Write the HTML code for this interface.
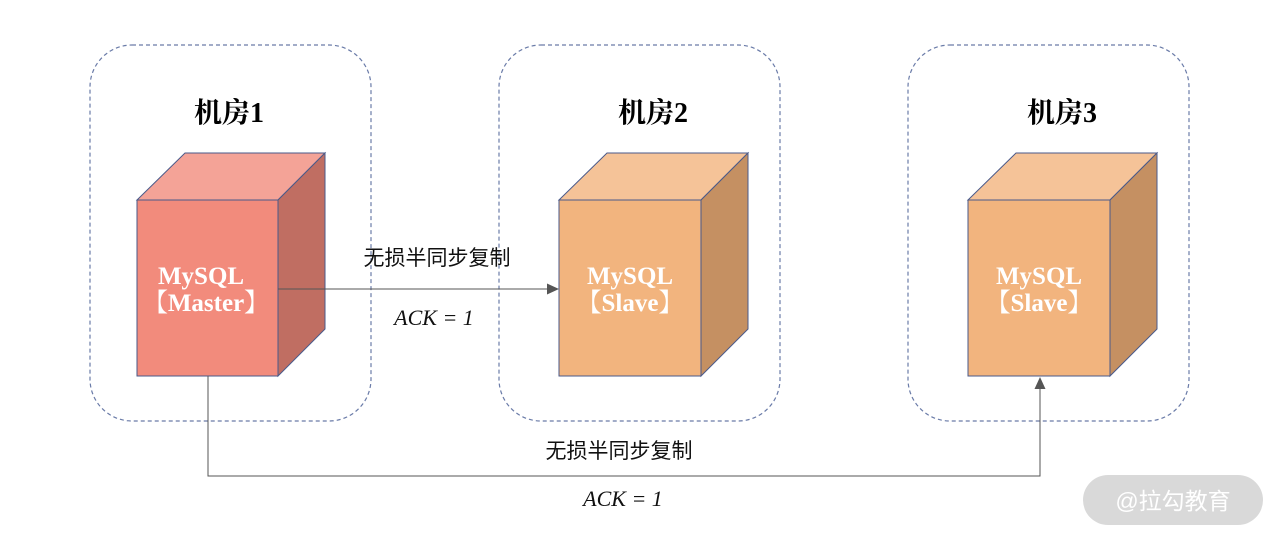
<!DOCTYPE html>
<html><head><meta charset="utf-8"><style>
html,body{margin:0;padding:0;background:#fff;width:1280px;height:543px;overflow:hidden}
</style></head><body>
<svg width="1280" height="543" viewBox="0 0 1280 543" xmlns="http://www.w3.org/2000/svg">
<g fill="none" stroke="#6a7ba8" stroke-width="1.2" stroke-dasharray="4,3">
<rect x="90" y="45" width="281" height="376" rx="42"/>
<rect x="499" y="45" width="281" height="376" rx="42"/>
<rect x="908" y="45" width="281" height="376" rx="42"/>
</g>
<g font-family="'Liberation Serif','Noto Serif CJK SC',serif" font-weight="bold" font-size="28" fill="#000" text-anchor="middle">
<text x="229" y="122">机房1</text>
<text x="653" y="122">机房2</text>
<text x="1062" y="122">机房3</text>
</g>
<g stroke="#4a5a8a" stroke-width="1">
<polygon points="137,200 185,153 325,153 278,200" fill="#f4a397"/>
<polygon points="278,200 325,153 325,329 278,376" fill="#c06e62"/>
<rect x="137" y="200" width="141" height="176" fill="#f28b7c"/>
<polygon points="559,200 607,153 748,153 701,200" fill="#f5c398"/>
<polygon points="701,200 748,153 748,329 701,376" fill="#c59062"/>
<rect x="559" y="200" width="142" height="176" fill="#f2b47e"/>
<polygon points="968,200 1016,153 1157,153 1110,200" fill="#f5c398"/>
<polygon points="1110,200 1157,153 1157,329 1110,376" fill="#c59062"/>
<rect x="968" y="200" width="142" height="176" fill="#f2b47e"/>
</g>
<g font-family="'Liberation Serif','Noto Serif CJK SC',serif" font-weight="bold" font-size="25" fill="#fff" text-anchor="middle">
<text x="201" y="284">MySQL</text><text x="206" y="311">【Master】</text>
<text x="630" y="284">MySQL</text><text x="630" y="311">【Slave】</text>
<text x="1039" y="284">MySQL</text><text x="1039" y="311">【Slave】</text>
</g>
<g stroke="#555" stroke-width="1" fill="none">
<line x1="278" y1="289" x2="549" y2="289"/>
<polyline points="208,376 208,476 1040,476 1040,388"/>
</g>
<polygon points="559,289 547,283.5 547,294.5" fill="#555"/>
<polygon points="1040,377 1034.5,389 1045.5,389" fill="#555"/>
<g font-family="'Liberation Sans','Noto Sans CJK SC',sans-serif" font-size="21" fill="#111" text-anchor="middle">
<text x="437" y="265">无损半同步复制</text>
<text x="619" y="458">无损半同步复制</text>
</g>
<g font-family="'Liberation Serif',serif" font-style="italic" font-size="22" fill="#111" text-anchor="middle">
<text x="434" y="325">ACK = 1</text>
<text x="623" y="506">ACK = 1</text>
</g>
<rect x="1083" y="475" width="180" height="50" rx="25" fill="#d9d9d9"/>
<text x="1173" y="509" text-anchor="middle" font-family="'Liberation Sans','Noto Sans CJK SC',sans-serif" font-size="23" fill="#fff">@拉勾教育</text>
</svg>
</body></html>
